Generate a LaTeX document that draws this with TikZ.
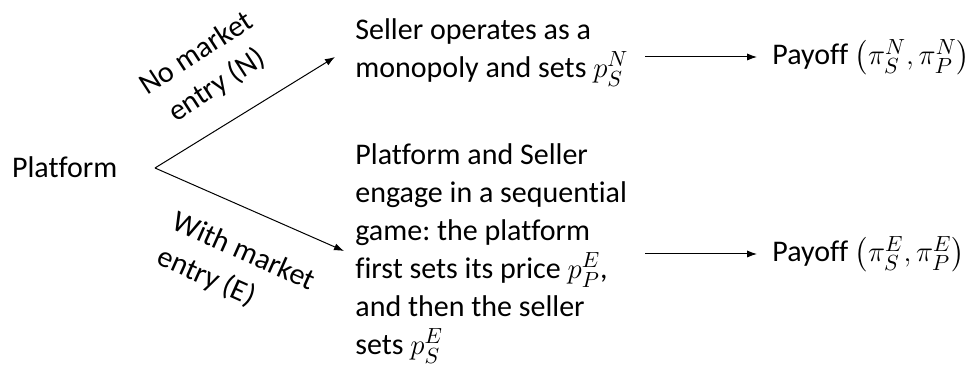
\documentclass[tikz,border=0pt]{standalone}
\usepackage{fontspec}
\setmainfont{Carlito}[Ligatures=NoCommon]
\usepackage{amsmath}
\usetikzlibrary{arrows.meta}
\frenchspacing

\begin{document}
\begin{tikzpicture}[x=0.5pt,y=-0.5pt,
  every node/.style={font=\fontsize{15}{19}\selectfont, inner sep=0pt},
  branch/.style={line width=0.5pt, -{Latex[length=5pt,width=3.6pt]}},
  stage/.style={anchor=north west, align=left},
  payoff/.style={anchor=west, inner xsep=7.5pt}]
\useasboundingbox (0,0) rectangle (976,367);
% first mover
\node[anchor=west] (Platform) at (11.7,167) {Platform};
\coordinate (Fork) at (155,168);
\coordinate (TipN) at (335,57);
\coordinate (TipE) at (344,251);
\draw[branch] (Fork) -- (TipN);
\draw[branch] (Fork) -- (TipE);
\node[rotate=33, align=center] (LabelN) at (207,70) {No market\\entry (N)};
\node[rotate=-24, align=left] (LabelE) at (236,270) {With market\\entry (E)};
% second stage
\node[stage] (StageN) at (355,18) {Seller operates as a\\monopoly and sets $p_S^N$};
\node[stage] (StageE) at (355,143) {Platform and Seller\\engage in a sequential\\game: the platform\\first sets its price $p_P^E$,\\and then the seller\\sets $p_S^E$};
% payoffs
\coordinate (FromN) at (645,57);
\coordinate (FromE) at (645,254);
\node[payoff] (PayN) at (757,57) {Payoff $\left(\pi_S^N,\pi_P^N\right)$};
\node[payoff] (PayE) at (757,254) {Payoff $\left(\pi_S^E,\pi_P^E\right)$};
\draw[branch] (FromN) -- (PayN.west);
\draw[branch] (FromE) -- (PayE.west);
\end{tikzpicture}
\end{document}
